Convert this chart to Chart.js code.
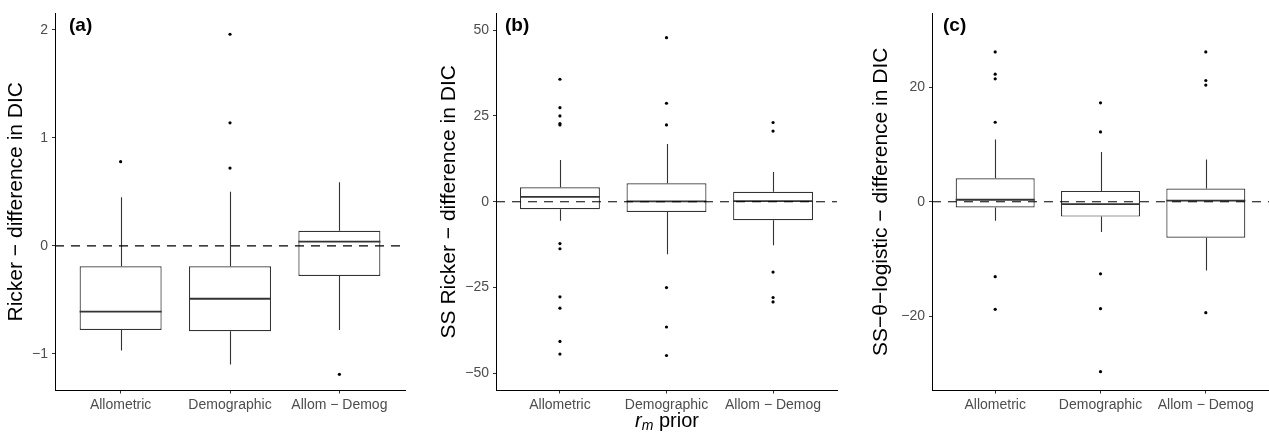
<!DOCTYPE html>
<html>
<head>
<meta charset="utf-8">
<script src="https://cdn.jsdelivr.net/npm/chart.js@4.4.0/dist/chart.umd.min.js"></script>
<style>
  body { margin: 0; background: #fff; width: 1269px; height: 439px; position: relative; overflow: hidden; font-family: "Liberation Sans", Arial, sans-serif; }
  canvas { position: absolute; top: 0; }
  #xtitle { position: absolute; left: 567px; width: 200px; top: 410px; text-align: center; font-size: 20px; line-height: 20px; color: #000; white-space: nowrap; }
  #xtitle sub { font-size: 14px; font-style: italic; vertical-align: -3px; line-height: 0; }
</style>
</head>
<body>
<canvas id="chartA" width="420" height="439" style="left:0px"></canvas>
<canvas id="chartB" width="430" height="439" style="left:420px"></canvas>
<canvas id="chartC" width="419" height="439" style="left:850px"></canvas>
<div id="xtitle"><i>r</i><sub>m</sub> prior</div>
<script>
const categories = ['Allometric', 'Demographic', 'Allom − Demog'];

// each box: [lower whisker, q1, median, q3, upper whisker]
const rickerBoxes = [
    [-0.97, -0.78, -0.61, -0.19, 0.45],
    [-1.10, -0.79, -0.49, -0.19, 0.50],
    [-0.78, -0.28, 0.04, 0.14, 0.59]
];
const rickerOutliers = [[0.78], [1.96, 1.14, 0.72], [-1.19]];
const rickerTicks = [-1, 0, 1, 2];

const ssRickerBoxes = [
    [-5.5, -2.2, 1.4, 4.2, 12.2],
    [-15.3, -3.0, 0.1, 5.4, 16.8],
    [-12.7, -5.4, 0.2, 2.9, 8.7]
];
const ssRickerOutliers = [
    [35.7, 27.4, 25.0, 22.8, 22.4, -12.2, -13.7, -27.7, -31.0, -40.7, -44.4],
    [47.8, 28.7, 22.4, -25.0, -36.5, -44.8],
    [23.1, 20.6, -20.5, -27.9, -29.2]
];
const ssRickerTicks = [-50, -25, 0, 25, 50];

const thetaBoxes = [
    [-3.3, -1.0, 0.35, 4.1, 10.9],
    [-5.3, -2.6, -0.4, 1.9, 8.7],
    [-12.0, -6.3, 0.2, 2.3, 7.4]
];
const thetaOutliers = [
    [26.2, 22.3, 21.5, 13.9, -13.1, -18.8],
    [17.3, 12.2, -12.6, -18.7, -29.7],
    [26.2, 21.2, 20.4, -19.4]
];
const thetaTicks = [-20, 0, 20];

const FONT = '"Liberation Sans", Arial, sans-serif';
const H = 439;
const PLOT_TOP = 13;
const PLOT_BOTTOM = 390.5;

function minus(v) {
    return String(v).replace('-', '\u2212');
}

function boxPlot(id, p) {
    let ctx = document.getElementById(id).getContext('2d');

    let extras = {
        id: 'extras',
        afterDatasetDraw(chart, args) {
            if (args.index !== 0) return;
            let c = chart.ctx;
            let y = chart.scales.y;
            let bars = chart.getDatasetMeta(0).data;
            c.save();
            c.strokeStyle = '#333333';
            p.boxes.forEach((b, i) => {
                let bar = bars[i];
                let x = Math.round(bar.x) + 0.5;
                c.lineWidth = 1.1;
                c.beginPath();
                c.moveTo(x, y.getPixelForValue(b[3]));
                c.lineTo(x, y.getPixelForValue(b[4]));
                c.moveTo(x, y.getPixelForValue(b[1]));
                c.lineTo(x, y.getPixelForValue(b[0]));
                c.stroke();
                c.lineWidth = 1.8;
                c.beginPath();
                let my = y.getPixelForValue(b[2]);
                c.moveTo(bar.x - bar.width / 2, my);
                c.lineTo(bar.x + bar.width / 2, my);
                c.stroke();
            });
            c.restore();
        },
        afterDraw(chart) {
            let c = chart.ctx;
            c.save();
            c.fillStyle = '#000';
            c.font = 'bold 19px ' + FONT;
            c.textBaseline = 'alphabetic';
            c.fillText(p.label, chart.chartArea.left + p.labelGap, 31);
            c.restore();
        }
    };

    return new Chart(ctx, {
        type: 'bar',
        data: {
            datasets: [{
                data: p.boxes.map((b, i) => ({x: i + 1, y: [b[1], b[3]]})),
                backgroundColor: '#ffffff',
                borderColor: '#333333',
                borderWidth: 1.2,
                borderSkipped: false,
                barPercentage: 0.75,
                categoryPercentage: 1,
                order: 3
            }, {
                type: 'scatter',
                showLine: true,
                data: [{x: 0.4, y: 0}, {x: 3.6, y: 0}],
                borderColor: '#000000',
                borderWidth: 1.1,
                borderDash: [9, 7],
                pointRadius: 0,
                order: 2
            }, {
                type: 'scatter',
                data: p.outliers.flatMap((arr, i) => arr.map(v => ({x: i + 1, y: v}))),
                backgroundColor: '#000000',
                borderWidth: 0,
                pointRadius: 1.6,
                order: 1
            }]
        },
        options: {
            responsive: false,
            animation: false,
            events: [],
            layout: {autoPadding: false, padding: {left: 0, right: p.padRight, top: PLOT_TOP, bottom: 0}},
            plugins: {legend: {display: false}, tooltip: {enabled: false}},
            scales: {
                x: {
                    type: 'linear',
                    min: 0.4,
                    max: 3.6,
                    offset: false,
                    afterBuildTicks: s => { s.ticks = [1, 2, 3].map(v => ({value: v})); },
                    afterFit: s => { s.height = H - PLOT_BOTTOM; s.paddingLeft = 0; s.paddingRight = 0; },
                    ticks: {
                        callback: v => categories[v - 1],
                        autoSkip: false,
                        maxRotation: 0,
                        padding: 3,
                        color: '#4d4d4d',
                        font: {family: FONT, size: 14}
                    },
                    grid: {offset: false, drawOnChartArea: false, tickLength: 3, tickColor: '#333333'},
                    border: {color: '#000000', width: 1}
                },
                y: {
                    type: 'linear',
                    min: p.yMin,
                    max: p.yMax,
                    afterBuildTicks: s => { s.ticks = p.ticks.map(v => ({value: v})); },
                    afterFit: s => { s.width = p.axisWidth; },
                    ticks: {
                        callback: v => minus(v),
                        padding: 4,
                        color: '#4d4d4d',
                        font: {family: FONT, size: 14}
                    },
                    grid: {drawOnChartArea: false, tickLength: 3, tickColor: '#333333'},
                    border: {color: '#000000', width: 1},
                    title: {
                        display: true,
                        text: p.title,
                        color: '#000000',
                        font: {family: FONT, size: 21},
                        padding: {top: p.titleGap, bottom: 0}
                    }
                }
            }
        },
        plugins: [extras]
    });
}

boxPlot('chartA', {
    boxes: rickerBoxes, outliers: rickerOutliers, ticks: rickerTicks,
    yMin: -1.34, yMax: 2.157, title: 'Ricker \u2212 difference in DIC', label: '(a)',
    axisWidth: 55, padRight: 15, titleGap: 3.4, labelGap: 14
});

boxPlot('chartB', {
    boxes: ssRickerBoxes, outliers: ssRickerOutliers, ticks: ssRickerTicks,
    yMin: -55, yMax: 55, title: 'SS Ricker \u2212 difference in DIC', label: '(b)',
    axisWidth: 76, padRight: 13, titleGap: 16.4, labelGap: 9
});

boxPlot('chartC', {
    boxes: thetaBoxes, outliers: thetaOutliers, ticks: thetaTicks,
    yMin: -33, yMax: 33, title: 'SS\u2212\u03b8\u2212logistic \u2212 difference in DIC', label: '(c)',
    axisWidth: 82, padRight: 0, titleGap: 19.1, labelGap: 11
});
</script>
</body>
</html>
